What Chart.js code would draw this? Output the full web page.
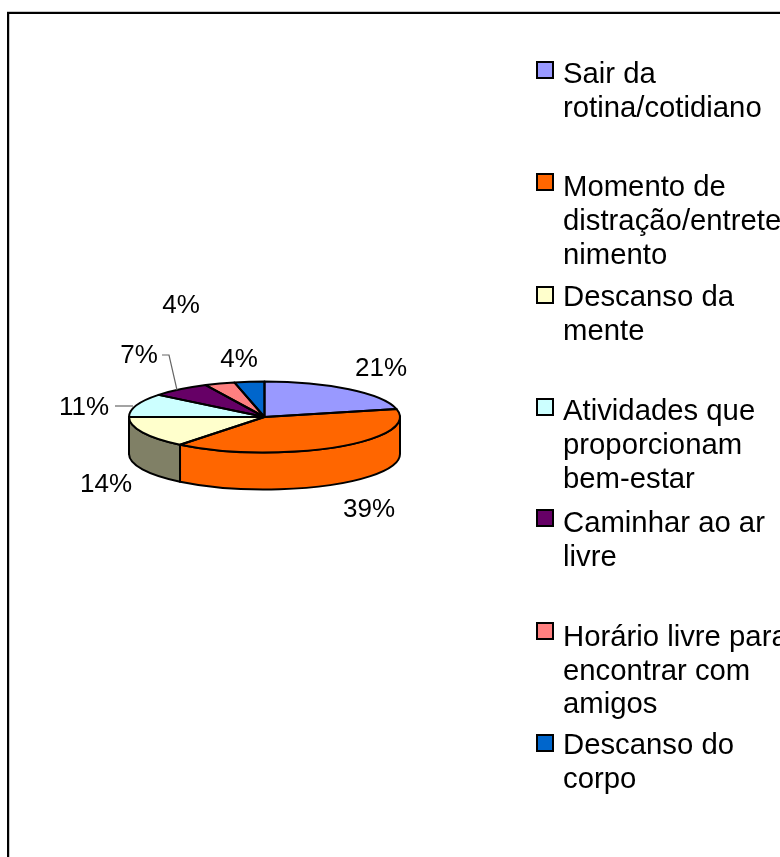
<!DOCTYPE html>
<html lang="pt">
<head>
<meta charset="utf-8">
<style>
html,body{margin:0;padding:0;background:#fff;overflow:hidden}
#wrap{position:absolute;left:0;top:0;width:780px;height:857px}
</style>
<script src="https://cdn.jsdelivr.net/npm/chart.js@4/dist/chart.umd.min.js"></script>
</head>
<body>
<div id="wrap"><canvas id="c" width="780" height="857"></canvas></div>
<script>
// ---- data ----
const categories = ['Sair da rotina/cotidiano','Momento de distração/entretenimento','Descanso da mente','Atividades que proporcionam bem-estar','Caminhar ao ar livre','Horário livre para encontrar com amigos','Descanso do corpo'];
const values = [6,11,4,3,2,1,1];
const topColors = ['#9999FF','#FF6600','#FFFFCC','#CCFFFF','#660066','#FF8080','#0066CC'];
const wallColors = ['#4D4D80','#FF6600','#808066','#668080','#330033','#804040','#003366'];
const legendLines = [['Sair da','rotina/cotidiano'],['Momento de','distração/entrete','nimento'],['Descanso da','mente'],['Atividades que','proporcionam','bem-estar'],['Caminhar ao ar','livre'],['Horário livre para','encontrar com','amigos'],['Descanso do','corpo']];

// ---- layout ----
const FONT = '"Liberation Sans", Arial, sans-serif';
const squash = 35.5 / 135.5, depth = 37;
const labelPos = [[381,369],[369,510],[106,485],[84,408],[139,356],[181,306],[239,360]];
const legendMarkY = [62,174,287,399,510,623,735];
const legendTextY = [[75,109],[188,222,256],[298,332],[412,446,480],[524,558],[638,672,705],[746,780]];

function slicePath(ctx, a, ry){
  ctx.beginPath();
  ctx.moveTo(a.x, a.y);
  ctx.ellipse(a.x, a.y, a.outerRadius, ry, 0, a.startAngle, a.endAngle);
  ctx.closePath();
}
const pie3d = {
  id:'pie3d',
  beforeDatasetsDraw(chart){
    const ctx = chart.ctx, arcs = chart.getDatasetMeta(0).data;
    ctx.save();
    ctx.lineWidth = 2; ctx.strokeStyle = '#000'; ctx.lineJoin = 'round';
    arcs.forEach((a,i)=>{
      const s = Math.max(a.startAngle, 0), e = Math.min(a.endAngle, Math.PI);
      if (e <= s) return;
      const ry = a.outerRadius * squash;
      ctx.beginPath();
      ctx.ellipse(a.x, a.y, a.outerRadius, ry, 0, s, e);
      ctx.ellipse(a.x, a.y + depth, a.outerRadius, ry, 0, e, s, true);
      ctx.closePath();
      ctx.fillStyle = wallColors[i];
      ctx.fill(); ctx.stroke();
    });
    ctx.restore();
    const a0 = arcs[0];
    ctx.save();
    ctx.translate(0, a0.y);
    ctx.scale(1, squash);
    ctx.translate(0, -a0.y);
  },
  afterDatasetsDraw(chart){
    const ctx = chart.ctx, arcs = chart.getDatasetMeta(0).data;
    ctx.restore();
    ctx.save();
    ctx.lineWidth = 2; ctx.strokeStyle = '#000'; ctx.lineJoin = 'round';
    arcs.forEach(a=>{ slicePath(ctx, a, a.outerRadius * squash); ctx.stroke(); });
    ctx.restore();
  },
  afterDraw(chart){
    const ctx = chart.ctx;
    const total = values.reduce((p,v)=>p+v,0);
    ctx.save();
    // frame
    ctx.fillStyle = '#c8c8c8';
    ctx.fillRect(7,11,773,1);
    ctx.fillRect(9,14,1,843);
    ctx.fillStyle = '#000';
    ctx.fillRect(7,12,773,2);
    ctx.fillRect(7,12,2,845);
    // leader lines
    ctx.strokeStyle = '#666'; ctx.lineWidth = 1.2;
    ctx.beginPath(); ctx.moveTo(115,406); ctx.lineTo(133,406); ctx.stroke();
    ctx.beginPath(); ctx.moveTo(162,355); ctx.lineTo(169,355); ctx.lineTo(177,390); ctx.stroke();
    // data labels
    ctx.fillStyle = '#000';
    ctx.font = '26px ' + FONT;
    ctx.textAlign = 'center'; ctx.textBaseline = 'middle';
    values.forEach((v,i)=> ctx.fillText(Math.round(v / total * 100) + '%', labelPos[i][0], labelPos[i][1]));
    // legend
    ctx.font = '29.3px ' + FONT;
    ctx.textAlign = 'left';
    legendLines.forEach((lines,i)=>{
      ctx.fillStyle = topColors[i];
      ctx.fillRect(537, legendMarkY[i], 16, 16);
      ctx.strokeStyle = '#000'; ctx.lineWidth = 2;
      ctx.strokeRect(537, legendMarkY[i], 16, 16);
      ctx.fillStyle = '#000';
      lines.forEach((t,j)=> ctx.fillText(t, 563, legendTextY[i][j]));
    });
    ctx.restore();
  }
};

new Chart(document.getElementById('c'), {
  type:'pie',
  data:{ labels:categories, datasets:[{ data:values, backgroundColor:topColors, borderWidth:0 }] },
  options:{
    responsive:false, animation:false, devicePixelRatio:1,
    layout:{ padding:{ left:129, right:380, top:281.5, bottom:304.5 } },
    plugins:{ legend:{display:false}, tooltip:{enabled:false} }
  },
  plugins:[pie3d]
});
</script>
</body>
</html>
